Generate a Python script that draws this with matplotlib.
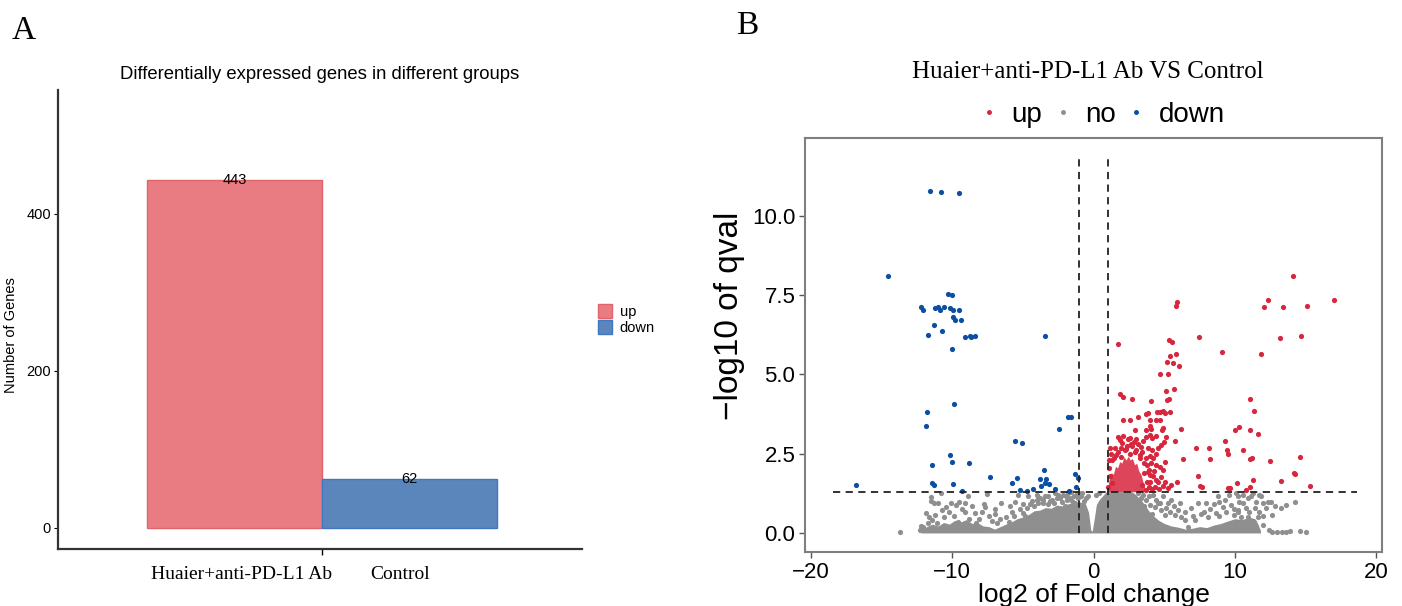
import numpy as np
import matplotlib
matplotlib.use("Agg")
import matplotlib.pyplot as plt
from matplotlib.patches import Patch
from matplotlib.lines import Line2D

SANS = "Liberation Sans"
SERIF = "Liberation Serif"

# ---- panel A data ----
groups = ["Huaier+anti-PD-L1 Ab", "Control"]
gene_counts = [443, 62]
bar_labels = ["up", "down"]

# ---- panel B data ----
up_pts = [
    (14.08, 8.09), (12.33, 7.35), (12.06, 7.12), (13.37, 7.11), (15.06, 7.16), (17.02, 7.33),
    (5.89, 7.28), (5.86, 7.14), (1.71, 5.96), (5.35, 6.09), (5.56, 6.01), (7.49, 6.17),
    (13.20, 6.14), (14.69, 6.21), (9.08, 5.70), (11.83, 5.64), (5.40, 5.58), (5.82, 5.64),
    (5.21, 5.38), (5.63, 5.37), (6.01, 5.26), (4.69, 5.02), (5.26, 5.02),
    (11.03, 4.22), (11.36, 3.84), (10.26, 3.33), (9.98, 3.25), (11.06, 3.25), (11.60, 3.11),
    (9.27, 2.91), (8.15, 2.68), (9.46, 2.62), (9.48, 2.50), (10.59, 2.60), (8.26, 2.34),
    (11.08, 2.32), (11.22, 2.37), (12.49, 2.27), (14.58, 2.40), (14.20, 1.89), (14.27, 1.86),
    (11.27, 1.68), (10.14, 1.56), (10.80, 1.36), (11.08, 1.44), (13.22, 1.63), (15.28, 1.47),
    (9.53, 1.41), (9.67, 1.41), (7.56, 1.48),
    (1.85, 4.37), (2.09, 4.30), (2.72, 4.23), (4.08, 4.16), (5.09, 4.46), (5.21, 4.20),
    (5.33, 4.23), (5.66, 4.54), (2.09, 3.56), (2.56, 3.56), (3.12, 3.64), (3.69, 3.74),
    (3.85, 3.77), (4.48, 3.80), (4.72, 3.80), (4.90, 3.85), (5.02, 3.77), (5.42, 3.82),
    (3.97, 3.56), (4.44, 3.56), (4.72, 3.56), (2.91, 3.25), (3.69, 3.25), (4.01, 3.37),
    (4.08, 3.27), (4.86, 3.25), (4.90, 3.32), (6.20, 3.27),
    (1.74, 3.04), (1.85, 2.93), (2.09, 3.06), (2.44, 2.95), (2.56, 2.99), (2.84, 2.88),
    (3.50, 2.90), (3.73, 3.01), (4.01, 3.08), (4.15, 2.99), (4.44, 3.07), (4.95, 2.88),
    (5.14, 3.04), (5.73, 2.90), (1.15, 2.67), (1.50, 2.67), (1.97, 2.67), (2.32, 2.64),
    (2.75, 2.74), (3.03, 2.62), (3.38, 2.72), (3.85, 2.67), (4.15, 2.62), (4.55, 2.67),
    (4.79, 2.78), (7.25, 2.67), (1.62, 2.46), (1.97, 2.41), (3.26, 2.46), (3.73, 2.36),
    (3.97, 2.43), (4.44, 2.49), (5.02, 2.25), (6.31, 2.32), (4.08, 2.20), (4.44, 2.14),
    (4.67, 2.07), (4.90, 1.99), (3.85, 1.93), (3.97, 1.83), (4.20, 1.78), (4.39, 1.67),
    (4.55, 1.62), (4.90, 1.48), (5.26, 1.41), (5.89, 1.62), (7.37, 1.80), (7.68, 1.44),
    (1.10, 2.04), (1.15, 1.78), (1.27, 1.57), (3.55, 2.20), (3.60, 1.90), (3.75, 1.60),
    (3.90, 1.45), (4.10, 1.38), (3.30, 2.35), (1.30, 2.30), (1.20, 2.50), (1.05, 1.45),
    (2.20, 2.60), (2.60, 2.50), (2.95, 2.55), (3.45, 1.50), (4.20, 2.35), (4.60, 1.40),
    (1.45, 2.35), (1.70, 2.55), (2.35, 2.75), (2.65, 2.80), (3.15, 2.80), (3.45, 2.55),
    (3.80, 2.15), (3.95, 2.00), (4.30, 1.95), (4.00, 1.60), (4.35, 1.45), (3.70, 1.35),
    (4.75, 1.75), (5.05, 1.60), (5.50, 1.50), (1.10, 2.30), (2.00, 2.85), (3.00, 2.95),
]

down_pts = [
    (-11.55, 10.79), (-10.76, 10.74), (-9.50, 10.72), (-14.53, 8.09), (-10.30, 7.53),
    (-9.98, 7.49), (-12.20, 7.13), (-12.06, 7.02), (-11.22, 7.08), (-11.01, 7.13),
    (-10.89, 7.02), (-10.54, 7.13), (-10.16, 7.08), (-9.91, 7.02), (-9.48, 7.02),
    (-9.93, 6.81), (-9.77, 6.70), (-9.39, 6.70), (-11.27, 6.54), (-10.75, 6.37),
    (-11.74, 6.23), (-9.08, 6.19), (-8.68, 6.17), (-8.40, 6.21), (-8.73, 6.22),
    (-3.40, 6.22), (-9.98, 5.80), (-9.86, 4.06), (-11.78, 3.82), (-11.85, 3.37),
    (-1.81, 3.66), (-1.60, 3.64), (-2.44, 3.29), (-5.52, 2.91), (-5.07, 2.84),
    (-10.14, 2.45), (-10.02, 2.25), (-11.43, 2.15), (-8.78, 2.21), (-7.35, 1.76),
    (-5.77, 1.57), (-5.40, 1.73), (-3.52, 1.98), (-3.80, 1.71), (-3.36, 1.69),
    (-3.71, 1.48), (-3.45, 1.59), (-3.15, 1.54), (-2.75, 1.40), (-1.31, 1.85),
    (-1.13, 1.73), (-1.24, 1.44), (-1.76, 1.33), (-4.69, 1.32), (-5.20, 1.35),
    (-4.25, 1.40), (-16.80, 1.51), (-11.43, 1.59), (-11.30, 1.50), (-9.93, 1.54),
    (-9.27, 1.32),
]

no_pts = [
    (-13.68, 0.02), (-11.46, 1.13), (-11.50, 1.01), (-11.30, 0.95), (-11.00, 0.96),
    (-11.85, 0.64), (-11.60, 0.49), (-11.40, 0.41), (-11.20, 0.57), (-12.05, 0.18),
    (-12.20, 0.22), (-10.70, 0.72), (-10.40, 0.81), (-10.20, 0.67), (-10.80, 1.25),
    (-8.87, 1.17), (-9.53, 0.99), (-9.76, 0.88), (-9.06, 0.67), (-8.36, 0.62),
    (-7.77, 0.91), (-7.65, 0.83), (-6.95, 0.60), (-6.52, 0.94), (-5.77, 0.67),
    (-5.54, 0.99), (-5.31, 1.20), (-4.96, 0.90), (-4.60, 1.15), (-4.37, 1.02),
    (-7.50, 1.23), (-4.01, 1.20), (-3.78, 1.11), (-3.54, 1.04), (-3.19, 1.17),
    (-2.96, 1.04), (-2.61, 1.09), (-2.25, 0.99), (-1.90, 1.04), (-1.55, 1.02),
    (-1.31, 0.94), (-9.30, 0.75), (-8.10, 0.45), (-6.20, 0.50), (-5.00, 0.62),
    (-7.20, 0.38), (-9.90, 0.55), (-6.80, 0.30), (-8.60, 0.85), (-4.70, 0.78),
    (-3.20, 0.90), (-2.50, 1.20), (-1.80, 1.25), (-1.10, 1.10), (-0.70, 1.00),
    (-0.40, 1.15), (-1.40, 1.15), (-3.90, 0.95), (-2.00, 0.85),
    (-5.90, 0.85), (-5.60, 0.55), (-5.20, 0.75), (-4.85, 0.55), (-4.50, 0.90),
    (-4.20, 0.85), (-4.00, 1.05), (-3.60, 0.95), (-3.40, 1.15), (-3.05, 1.00),
    (-2.80, 0.95), (-2.70, 1.25), (-2.35, 1.10), (-2.15, 1.20), (-1.95, 1.15),
    (-1.70, 1.10), (-1.60, 1.28), (-1.20, 1.22), (-0.90, 1.15), (-0.80, 1.25),
    (-0.55, 1.10), (-6.00, 0.35), (-6.60, 0.45), (-7.00, 0.75), (-7.40, 0.55),
    (-7.90, 0.65), (-8.30, 0.30), (-8.80, 0.45), (-9.10, 0.95), (-9.60, 0.35),
    (-10.10, 0.95), (-10.60, 0.50), (-11.10, 0.30), (-11.70, 0.30), (-12.30, 0.08),
    (3.73, 1.04), (3.97, 0.88), (4.32, 0.83), (4.55, 0.94), (4.79, 0.73), (5.02, 0.57),
    (5.26, 0.94), (5.49, 1.04), (5.96, 0.73), (6.20, 0.51), (6.90, 0.78), (7.37, 0.94),
    (7.96, 0.94), (7.84, 0.67), (8.78, 1.15), (8.90, 0.99), (9.13, 0.83), (9.37, 0.67),
    (9.72, 0.88), (9.95, 0.57), (10.19, 0.73), (10.31, 0.99), (6.43, 0.41), (7.14, 0.41),
    (8.08, 0.51), (8.66, 0.62), (3.38, 1.09), (3.15, 1.25), (3.50, 1.20), (4.20, 1.20),
    (4.90, 1.15), (5.73, 0.57), (6.67, 0.20),
    (0.20, 1.20), (0.40, 1.25), (3.30, 0.95), (3.60, 0.85), (3.90, 1.15), (4.10, 0.60),
    (4.40, 1.05), (4.70, 0.95), (5.10, 0.80), (5.40, 0.65), (5.70, 0.85), (6.10, 0.95),
    (6.50, 0.65), (7.00, 0.55), (7.60, 0.60), (8.20, 0.75), (8.50, 0.90), (8.90, 0.55),
    (9.30, 1.05), (9.60, 1.20), (9.90, 0.75), (10.10, 1.25), (10.60, 1.20), (10.90, 0.50),
    (11.40, 0.80), (11.70, 0.65), (12.00, 0.55), (12.80, 0.85), (14.60, 0.05),
    (15.00, 0.04), (13.90, 0.05),
    (10.24, 1.15), (10.54, 0.94), (10.89, 1.09), (11.13, 1.17), (11.25, 1.25),
    (11.48, 0.99), (11.72, 1.20), (11.83, 1.15), (11.95, 0.94), (12.30, 0.97),
    (12.54, 0.99), (12.18, 0.78), (12.65, 0.57), (13.24, 0.78), (13.64, 0.88),
    (14.25, 0.99), (12.42, 0.09), (12.65, 0.04), (13.00, 0.02), (13.29, 0.02),
    (13.64, 0.04), (10.19, 0.67), (10.42, 0.51), (10.78, 0.78), (11.01, 0.67),
    (11.36, 0.36), (11.60, 0.51), (11.95, 0.25),
]

# dense parts of the cloud, drawn as filled envelopes
gray_core_x = [-12.2, -11.8, -11.4, -11.0, -10.6, -10.2, -9.8, -9.4, -9.0, -8.6, -8.2, -7.8,
               -7.4, -7.0, -6.6, -6.2, -5.8, -5.4, -5.0, -4.6, -4.2, -3.8, -3.4, -3.0, -2.6,
               -2.2, -1.8, -1.4, -1.0, -0.6, -0.35, -0.2, -0.1, 0.05, 0.2, 0.4, 0.7, 0.9,
               2.7, 3.0, 3.3, 3.6, 3.9, 4.2, 4.6, 5.0, 5.5, 6.0, 6.5, 7.0, 7.5, 8.0, 8.5,
               9.0, 9.5, 10.0, 10.5, 11.0, 11.4, 11.6, 11.8]
gray_core_top = [0.10, 0.20, 0.28, 0.22, 0.33, 0.28, 0.40, 0.35, 0.42, 0.30, 0.32, 0.22,
                 0.20, 0.12, 0.20, 0.28, 0.35, 0.45, 0.50, 0.58, 0.70, 0.72, 0.80, 0.78, 0.88,
                 0.85, 0.92, 0.95, 0.98, 0.95, 0.65, 0.10, 0.05, 0.45, 0.90, 1.05, 1.20, 1.30,
                 1.30, 1.20, 1.05, 0.90, 0.70, 0.55, 0.40, 0.30, 0.22, 0.18, 0.12, 0.15, 0.20,
                 0.17, 0.25, 0.30, 0.38, 0.45, 0.42, 0.50, 0.45, 0.30, 0.08]
red_core_x = [1.0, 1.1, 1.25, 1.4, 1.55, 1.7, 1.85, 2.0, 2.15, 2.3, 2.45, 2.6, 2.75, 2.9,
              3.05, 3.2, 3.35, 3.5, 3.65]
red_core_top = [1.35, 1.70, 1.90, 1.85, 2.10, 2.05, 2.25, 2.20, 2.40, 2.30, 2.42, 2.30, 2.35,
                2.15, 2.20, 1.95, 1.85, 1.60, 1.40]
q_cut = 1.3
fc_cut = 1.0

RED_BAR, RED_EDGE = "#E97C82", "#E0646C"
BLUE_BAR, BLUE_EDGE = "#5B86BB", "#3F78C1"
UP_C, NO_C, DOWN_C = "#D7263D", "#8F8F8F", "#0B4EA2"

fig = plt.figure(figsize=(14.02, 6.06), dpi=100)

# ---------------- A ----------------
ax1 = fig.add_axes([0.0414, 0.0941, 0.3738, 0.7574])
xpos = np.arange(len(groups))
ax1.bar(xpos, gene_counts, width=1.0, color=[RED_BAR, BLUE_BAR],
        edgecolor=[RED_EDGE, BLUE_EDGE], linewidth=1.0)
for x, v in zip(xpos, gene_counts):
    ax1.text(x, v, str(v), ha="center", va="center", fontsize=10.5, family=SANS)
ax1.set_xlim(-1.01, 1.99)
ax1.set_ylim(-27, 558)
ax1.set_yticks([0, 200, 400])
ax1.tick_params(axis="y", labelsize=10.5, length=3, width=0.8, pad=2)
for lab in ax1.get_yticklabels():
    lab.set_family(SANS)
ax1.set_xticks([0.04, 0.95])
ax1.set_xticklabels(groups, family=SERIF, fontsize=14)
ax1.tick_params(axis="x", length=0, pad=12)
ax1.set_xticks([0.5], minor=True)
ax1.tick_params(axis="x", which="minor", length=4, width=1)
for s in ["top", "right"]:
    ax1.spines[s].set_visible(False)
for s in ["left", "bottom"]:
    ax1.spines[s].set_linewidth(1.6)
    ax1.spines[s].set_color("#333333")
ax1.set_ylabel("Number of Genes", family=SANS, fontsize=10.5)
ax1.yaxis.set_label_coords(-0.076, 0.466)
ax1.set_title("Differentially expressed genes in different groups", family=SANS,
              fontsize=13.3, pad=8)
handles = [Patch(facecolor=RED_BAR, edgecolor=RED_EDGE, label=bar_labels[0]),
           Patch(facecolor=BLUE_BAR, edgecolor=BLUE_EDGE, label=bar_labels[1])]
ax1.legend(handles=handles, loc="center left", bbox_to_anchor=(1.005, 0.5), frameon=False,
           prop={"family": SANS, "size": 10.5}, handlelength=1.0, handleheight=1.1,
           handletextpad=0.5, labelspacing=0.1)
fig.text(0.008, 0.95, "A", family=SERIF, fontsize=24, va="center")

# ---------------- B ----------------
ax2 = fig.add_axes([0.5742, 0.0891, 0.4116, 0.6832])
ax2.fill_between(gray_core_x, 0, gray_core_top, color=NO_C, lw=0, zorder=2)
no_arr = np.array(no_pts)
ax2.scatter(no_arr[:, 0], no_arr[:, 1], s=14, color=NO_C, lw=0, zorder=2)
ax2.fill_between(red_core_x, q_cut, red_core_top, color=UP_C, lw=0, alpha=0.85, zorder=3)
up_arr = np.array(up_pts)
ax2.scatter(up_arr[:, 0], up_arr[:, 1], s=14, color=UP_C, lw=0, zorder=3)
dn_arr = np.array(down_pts)
ax2.scatter(dn_arr[:, 0], dn_arr[:, 1], s=14, color=DOWN_C, lw=0, zorder=3)
ax2.hlines(q_cut, -18.45, 18.65, colors="#222222", linestyles=(0, (4, 3)), lw=1.3, zorder=4)
ax2.vlines([-fc_cut, fc_cut], 0, 11.9, colors="#222222", linestyles=(0, (4, 3)), lw=1.3,
           zorder=4)
ax2.set_xlim(-20.4, 20.4)
ax2.set_ylim(-0.6, 12.45)
ax2.set_xticks([-20, -10, 0, 10, 20])
ax2.set_yticks([0, 2.5, 5.0, 7.5, 10.0])
ax2.set_yticklabels(["0.0", "2.5", "5.0", "7.5", "10.0"])
ax2.tick_params(labelsize=16, length=4, width=1, color="#555555", pad=3)
for lab in ax2.get_xticklabels() + ax2.get_yticklabels():
    lab.set_family(SANS)
for s in ax2.spines.values():
    s.set_color("#7F7F7F")
    s.set_linewidth(1.5)
ax2.set_xlabel("log2 of Fold change", family=SANS, fontsize=19, labelpad=0)
ax2.set_ylabel("\u2212log10 of qval", family=SANS, fontsize=24)
ax2.yaxis.set_label_coords(-0.104, 0.57)
fig.text(0.776, 0.881, "Huaier+anti-PD-L1 Ab VS Control", family=SERIF, fontsize=18,
         ha="center", va="center")
leg_handles = [Line2D([], [], ls="", marker="o", ms=2.5, color=c, label=l)
               for c, l in zip([UP_C, NO_C, DOWN_C], ["up", "no", "down"])]
fig.legend(handles=leg_handles, loc="center", bbox_to_anchor=(0.787, 0.81), ncol=3,
           frameon=False, prop={"family": SANS, "size": 20}, handlelength=0.5,
           handletextpad=0.55, columnspacing=0.5)
fig.text(0.525, 0.958, "B", family=SERIF, fontsize=24, va="center")

fig.savefig("out.png", dpi=100)
